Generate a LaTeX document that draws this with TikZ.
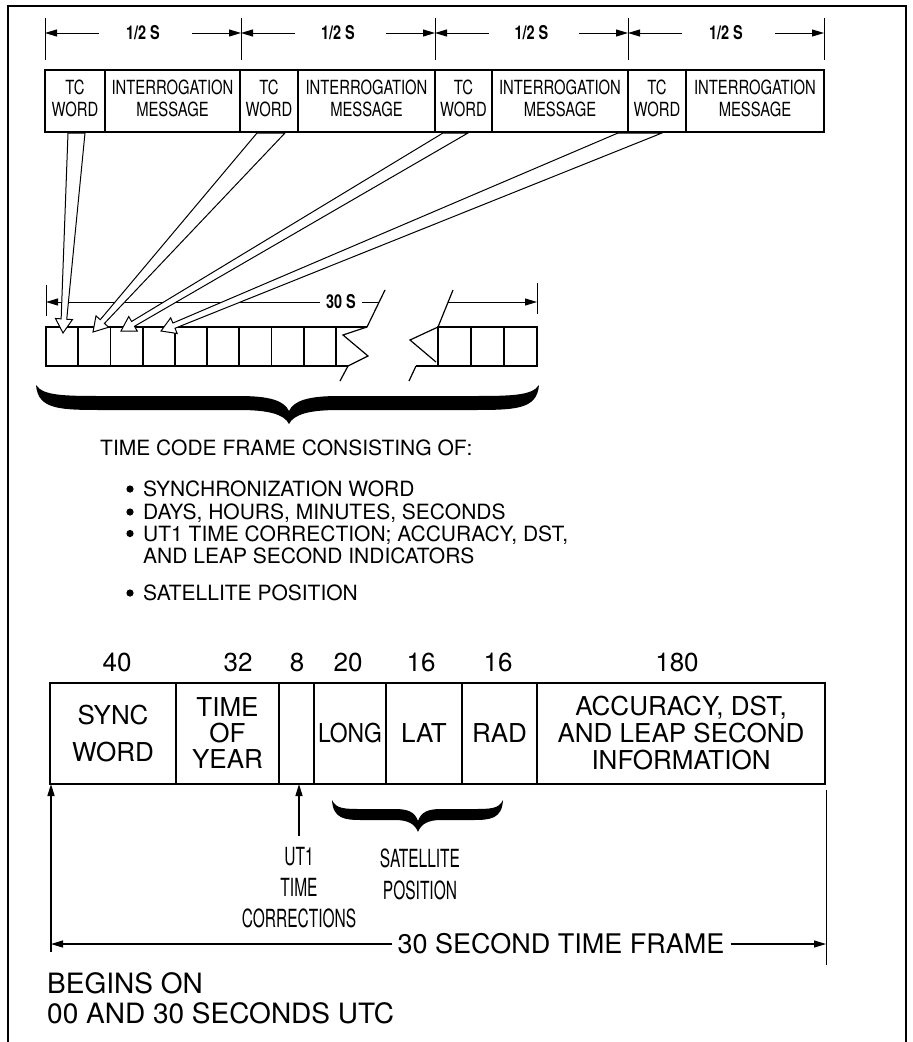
\documentclass[tikz,border=0pt]{standalone}
\usepackage{fontspec}
\setmainfont{TeX Gyre Heros}
\newfontfamily\tcfont{TeX Gyre Heros}[FakeStretch=0.76]
\newfontfamily\halffont{TeX Gyre Heros}[FakeStretch=0.76]
\newfontfamily\narfont{TeX Gyre Heros}[FakeStretch=0.88]
\newfontfamily\thinfont{TeX Gyre Heros}[FakeStretch=0.62]
\usetikzlibrary{arrows.meta,calc}
\newcommand\fsz[2]{\fontsize{#1}{#2}\selectfont}
% hollow tapered arrow: start xa, start xb (on y=133), tip x, tip y
\newcommand\hollowarrow[4]{%
  \coordinate (ha-s) at ({(#1+#2)/2},133);
  \coordinate (ha-t) at (#3,#4);
  \coordinate (ha-h) at ($(ha-t)!14pt!(ha-s)$);
  \filldraw[fill=white, line width=1pt, line join=miter]
    (ha-t) -- ($(ha-h)!8.5pt!-90:(ha-s)$) -- ($(ha-h)!2.8pt!-90:(ha-s)$) -- (#2,133)
    -- (#1,133) -- ($(ha-h)!2.8pt!90:(ha-s)$) -- ($(ha-h)!8.5pt!90:(ha-s)$) -- cycle;
}
\begin{document}
\begin{tikzpicture}[x=1pt,y=-1pt,
  thinl/.style={line width=1pt},
  dimtip/.style={-{Triangle[length=12pt,width=7pt]}},
  tbox/.style={draw, line width=1.8pt, minimum height=62pt, inner sep=0pt, outer sep=0pt,
    anchor=north west, align=center, text depth=6pt, font=\tcfont\fsz{19.5}{22}},
  cellbox/.style={draw, line width=1.8pt, minimum height=39pt, inner sep=0pt, outer sep=0pt, anchor=north west},
  fbox/.style={draw, line width=1.8pt, minimum height=101pt, inner sep=0pt, outer sep=0pt,
    anchor=north west, align=center, font=\fsz{26}{27}},
  numlbl/.style={font=\fsz{26}{30}, inner sep=0pt},
  halflbl/.style={font=\halffont\bfseries\fsz{19}{22}, inner sep=0pt},
  listtxt/.style={anchor=base west, font=\fsz{21}{22}, inner sep=0pt},
  condlbl/.style={font=\thinfont\fsz{25}{31}, align=center, inner sep=0pt},
  bigtxt/.style={font=\fsz{28}{30}, inner sep=0pt}
]
\useasboundingbox (0,0) rectangle (913,1042);
% outer frame
\draw[line width=2pt] (8,1042) -- (8,6) -- (906,6) -- (906,1042);

% ---- top dimension line ----
\foreach \x in {45,241,435,628,824} \draw[thinl] (\x,18) -- (\x,60);
\foreach \a/\b/\i in {45/241/1,241/435/2,435/628/3,628/824/4} {
  \node[halflbl] (hs\i) at ({(\a+\b)/2},33) {1/2 S};
  \draw[thinl, dimtip] ({\a+54},33) -- (\a,33);
  \draw[thinl, dimtip] ({\b-49},33) -- (\b,33);
}

% ---- top message boxes ----
\node[tbox, minimum width=60pt]  (tc1) at (45,70)  {TC\\WORD};
\node[tbox, minimum width=135pt] (im1) at (105,70) {INTERROGATION\\MESSAGE};
\node[tbox, minimum width=58pt]  (tc2) at (240,70) {TC\\WORD};
\node[tbox, minimum width=137pt] (im2) at (298,70) {INTERROGATION\\MESSAGE};
\node[tbox, minimum width=57pt]  (tc3) at (435,70) {TC\\WORD};
\node[tbox, minimum width=136pt] (im3) at (492,70) {INTERROGATION\\MESSAGE};
\node[tbox, minimum width=58pt]  (tc4) at (628,70) {TC\\WORD};
\node[tbox, minimum width=138pt] (im4) at (686,70) {INTERROGATION\\MESSAGE};

% ---- 30 S dimension ----
\draw[thinl] (46,285) -- (46,316);
\draw[thinl] (537,283) -- (537,314);
\node[halflbl] (ts) at (341,302) {30 S};
\draw[thinl, dimtip] ([xshift=-6pt]ts.west) -- (46,302);
\draw[thinl] ([xshift=6pt]ts.east) -- (379,302);
\draw[thinl, dimtip] (448,302) -- (537,302);

% ---- cell strip ----
\foreach \i in {0,...,8} \node[cellbox, minimum width=32.2pt] (c\i) at ({46+32.2*\i},327) {};
\draw[line width=1.8pt] (c8.north east) -- (367,327);
\draw[line width=1.8pt] (c8.south east) -- (348,366);
\draw[line width=1.2pt] (385,290) -- (367,327) -- (343,335) -- (368,356) -- (348,366) -- (340,381);
\foreach \i in {0,1,2} \node[cellbox, minimum width=33pt] (r\i) at ({438+33*\i},327) {};
\draw[line width=1.2pt] (453,290) -- (r0.north west) -- (410,340) -- (436,362);
\draw[line width=1.8pt] (416,366) -- (r0.south west);
\draw[line width=1.2pt] (416,366) -- (409,381);

% ---- hollow arrows from TC words to cells ----
\hollowarrow{68}{85}{63}{333}
\hollowarrow{257}{285}{93}{332}
\hollowarrow{443}{468}{121}{331}
\hollowarrow{618}{662}{161}{331}

% ---- big brace ----
\fill (36,385) .. controls (38,410) and (60,410) .. (106,410)
  -- (239,410) .. controls (268,410) and (284,414) .. (289,424)
  .. controls (294,414) and (310,410) .. (339,410)
  -- (469,410) .. controls (515,410) and (537,410) .. (539,385)
  .. controls (532,396) and (510,396) .. (469,396)
  -- (339,396) .. controls (310,396) and (294,400) .. (289,411)
  .. controls (284,400) and (268,396) .. (239,396)
  -- (106,396) .. controls (65,396) and (43,396) .. (36,385) -- cycle;

% ---- description list ----
\node[listtxt] (hdr) at (100,455.5) {TIME CODE FRAME CONSISTING OF:};
\foreach \y/\t in {496.5/SYNCHRONIZATION WORD,519.5/{DAYS, HOURS, MINUTES, SECONDS},541/{UT1 TIME CORRECTION; ACCURACY, DST,},600.5/SATELLITE POSITION} {
  \fill ({130},{\y-7.5}) circle (3.6pt);
  \node[listtxt] at (143,\y) {\t};
}
\node[listtxt] (cont) at (143,563) {AND LEAP SECOND INDICATORS};

% ---- bit counts ----
\node[numlbl] (n40)  at (117,662) {40};
\node[numlbl] (n32)  at (238,662) {32};
\node[numlbl] (n8)   at (297,662) {8};
\node[numlbl] (n20)  at (348,662) {20};
\node[numlbl] (n16a) at (421,662) {16};
\node[numlbl] (n16b) at (498,662) {16};
\node[numlbl] (n180) at (677,662) {180};

% ---- frame fields ----
\node[fbox, minimum width=126pt, font=\fsz{26}{37}] (sync) at (50,683) {SYNC\\WORD};
\node[fbox, minimum width=103pt, font=\fsz{26}{26}] (toy) at (176,683) {TIME\\OF\\YEAR};
\node[fbox, minimum width=35pt] (ut) at (279,683) {};
\node[fbox, minimum width=72pt, font=\narfont\fsz{26}{27}] (long) at (314,683) {LONG};
\node[fbox, minimum width=76pt] (lat) at (386,683) {LAT};
\node[fbox, minimum width=75pt] (rad) at (462,683) {RAD};
\node[fbox, minimum width=288pt] (acc) at (537,683) {ACCURACY, DST,\\AND LEAP SECOND\\INFORMATION};

% ---- arrows below frame ----
\coordinate (lbot) at (51,952);
\draw[line width=1.6pt, -{Triangle[length=12pt,width=7pt]}] (lbot) -- (lbot |- sync.south);
\coordinate (ubot) at (299,836);
\draw[line width=1.4pt, -{Triangle[length=12pt,width=7pt]}] (ubot) -- (ubot |- ut.south);
\coordinate (rtop) at (826,790);
\coordinate (rbot) at (826,965);
\draw[thinl] (rtop) -- (rbot);

% satellite brace
\fill (332,800) .. controls (333,819) and (345,820) .. (362,820)
  -- (395,820) .. controls (408,820) and (415,824) .. (418,832)
  .. controls (421,824) and (428,820) .. (441,820)
  -- (473,820) .. controls (490,820) and (502,819) .. (503,800)
  .. controls (499,809) and (490,809) .. (473,809)
  -- (441,809) .. controls (428,809) and (421,812) .. (418,821)
  .. controls (415,812) and (408,809) .. (395,809)
  -- (362,809) .. controls (345,809) and (336,809) .. (332,800) -- cycle;

\node[condlbl] (utl) at (299,888) {UT1\\TIME\\CORRECTIONS};
\node[condlbl, font=\thinfont\fsz{25}{32}] (satl) at (420,874) {SATELLITE\\POSITION};

% ---- 30 second time frame ----
\node[font=\fsz{27}{30}, inner sep=0pt] (tf) at (561,944) {30 SECOND TIME FRAME};
\draw[line width=1.2pt, dimtip] ([xshift=-5pt]tf.west) -- (lbot |- tf.west);
\draw[line width=1.2pt, dimtip] ([xshift=6pt]tf.east) -- (rtop |- tf.east);

\node[bigtxt, anchor=west] (beg1) at (47,983) {BEGINS ON};
\node[bigtxt, anchor=west] (beg2) at (47,1013) {00 AND 30 SECONDS UTC};
\end{tikzpicture}
\end{document}
